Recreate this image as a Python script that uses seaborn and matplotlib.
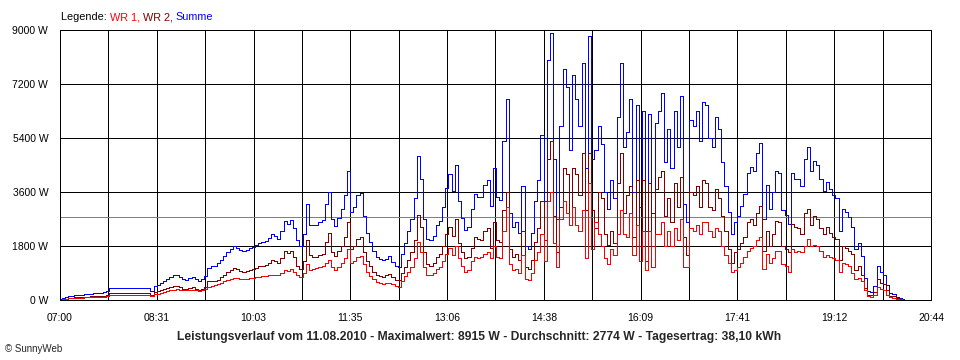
# SunnyWeb power curve (Leistungsverlauf) for 11.08.2010
import numpy as np
import pandas as pd
import matplotlib
matplotlib.use("Agg")
import matplotlib.pyplot as plt
import seaborn as sns

# one value every 3 minutes, starting at 07:00 (watts)
step_min = 3

wr1 = [10, 25, 40, 55, 60, 70, 75, 80, 85, 90,
       95, 100, 105, 110, 115, 130, 160, 165, 165, 160,
       160, 165, 160, 165, 160, 165, 160, 160, 165, 130,
       190, 210, 240, 270, 300, 330, 350, 360, 340, 330,
       320, 340, 350, 330, 300, 330, 380, 440, 470, 500,
       540, 580, 620, 660, 700, 730, 720, 700, 690, 710,
       720, 730, 760, 780, 800, 800, 820, 850, 840, 820,
       900, 1000, 960, 1020, 950, 850, 780, 900, 1200, 1000,
       1050, 1070, 1100, 1120, 1250, 1350, 1100, 1000, 1100, 1250,
       1400, 1700, 1250, 1300, 1450, 1480, 1200, 950, 800, 700,
       600, 560, 540, 560, 580, 520, 470, 450, 650, 800,
       950, 1100, 1400, 1950, 1600, 1100, 850, 850, 900, 1050,
       1100, 1300, 1550, 1750, 1500, 1800, 1400, 1150, 950, 1000,
       1300, 1450, 1400, 1450, 1550, 1600, 1400, 1800, 1450, 1400,
       2300, 3100, 1200, 1000, 1050, 900, 1500, 700, 680, 900,
       1350, 1600, 2200, 1300, 3300, 3600, 1900, 1100, 2700, 3300,
       2900, 2500, 3100, 2500, 2300, 3000, 1400, 3900, 1700, 2600,
       2200, 1800, 1400, 1200, 1700, 1500, 2200, 3000, 2200, 2100,
       2900, 1500, 2500, 1300, 2300, 1000, 2300, 1100, 2200, 2200,
       2600, 1800, 2300, 1800, 2400, 2000, 2700, 1100, 1100, 2400,
       2300, 2500, 2200, 2600, 2600, 2300, 2100, 2400, 2300, 1800,
       1500, 1250, 950, 1000, 1100, 1250, 1450, 1650, 1750, 1800,
       2000, 2100, 1050, 1550, 1250, 1400, 1650, 1650, 1200, 1150,
       950, 1700, 1600, 1650, 1600, 1800, 2050, 1800, 1850, 1800,
       1650, 1450, 1500, 1450, 1400, 1350, 950, 1250, 1200, 1120,
       900, 700, 750, 620, 350, 120, 100, 180, 420, 380,
       320, 180, 90, 80, 40, 20, 10]

wr2 = [10, 30, 50, 70, 80, 90, 95, 100, 110, 115,
       120, 130, 135, 140, 150, 180, 230, 240, 235, 235,
       240, 240, 235, 240, 245, 240, 235, 240, 235, 170,
       270, 300, 330, 370, 400, 440, 470, 480, 420, 380,
       360, 400, 430, 380, 320, 370, 420, 620, 650, 620,
       680, 760, 850, 930, 1000, 1060, 1020, 960, 930, 960,
       1000, 1050, 1080, 1120, 1150, 1180, 1250, 1350, 1290, 1230,
       1400, 1650, 1560, 1640, 1450, 1150, 1020, 1300, 2000, 1500,
       1450, 1420, 1500, 1550, 1950, 2250, 1600, 1480, 1650, 1800,
       2100, 2600, 1700, 1800, 2050, 2100, 1600, 1300, 1150, 950,
       830, 800, 780, 820, 880, 760, 680, 660, 900, 1100,
       1350, 1600, 2000, 2850, 2450, 1600, 1200, 1150, 1250, 1450,
       1550, 1800, 2200, 2450, 2150, 2700, 1900, 1600, 1400, 1450,
       1750, 2100, 2050, 2000, 2300, 2400, 1750, 2600, 2000, 1950,
       3000, 3600, 1700, 1450, 1550, 1350, 2300, 1100, 1020, 1350,
       1950, 2400, 3300, 2000, 4700, 5300, 2800, 1600, 3100, 4400,
       4200, 2500, 4400, 4200, 3500, 4900, 3000, 4900, 3000, 2400,
       3600, 3400, 2200, 1850, 2300, 1900, 3900, 4900, 2900, 3500,
       3800, 2100, 4000, 1800, 4000, 1300, 3900, 1800, 3700, 4100,
       4300, 2800, 3400, 2600, 3900, 3100, 4100, 2100, 1500, 3600,
       3500, 3800, 3100, 4000, 3900, 3100, 3000, 3700, 3400, 2800,
       2300, 1700, 1250, 1600, 1700, 1900, 2100, 2600, 2700, 2500,
       2900, 3150, 1650, 2300, 1800, 2200, 2650, 2600, 1800, 1700,
       1600, 2550, 2450, 2400, 2200, 2900, 3050, 2500, 2800, 2700,
       2400, 2200, 2450, 2250, 2100, 2050, 1350, 1800, 1750, 1650,
       1550, 1000, 1150, 850, 400, 180, 170, 280, 700, 560,
       520, 330, 150, 130, 70, 40, 20]

tick_labels = ["07:00", "08:31", "10:03", "11:35", "13:06",
               "14:38", "16:09", "17:41", "19:12", "20:44"]
y_ticks = [0, 1800, 3600, 5400, 7200, 9000]
avg_w = 2774
day_minutes = 824  # 07:00 .. 20:44

series_colors = {"Summe": "#0000FF", "WR 2": "#800000", "WR 1": "#FF0000"}
legend_parts = ["Legende: ", "WR 1, ", "WR 2, ", "Summe"]
legend_colors = ["black", "#FF0000", "#800000", "#0000FF"]
title = ("Leistungsverlauf vom 11.08.2010 - Maximalwert: 8915 W - "
         "Durchschnitt: 2774 W - Tagesertrag: 38,10 kWh")

n = len(wr1)
minutes = np.arange(n) * step_min
summe = np.array(wr1) + np.array(wr2)  # Summe = WR 1 + WR 2

df = pd.DataFrame({
    "min": np.tile(minutes, 3),
    "W": np.concatenate([summe, wr2, wr1]),
    "serie": ["Summe"] * n + ["WR 2"] * n + ["WR 1"] * n,
})

sns.set_style("white")
plt.rcParams["font.family"] = ["Liberation Sans", "DejaVu Sans"]
plt.rcParams["lines.antialiased"] = False

px = 0.72  # one pixel at 100 dpi

fig = plt.figure(figsize=(9.6, 3.6), dpi=100)
ax = fig.add_axes([60 / 960, 60 / 360, 871 / 960, 270 / 360])

ax.axhline(avg_w, color="#808080", lw=px, zorder=1.5)

sns.lineplot(data=df, x="min", y="W", hue="serie",
             hue_order=["Summe", "WR 2", "WR 1"], palette=series_colors,
             estimator=None, legend=False, lw=px, drawstyle="steps-mid",
             antialiased=False, ax=ax)

xt = np.linspace(0, day_minutes, 19)
ax.set_xticks(xt)
ax.set_xticklabels([tick_labels[i // 2] if i % 2 == 0 else "" for i in range(19)])
ax.set_yticks(y_ticks)
ax.set_yticklabels([f"{v} W" for v in y_ticks])
ax.set_xlim(0, day_minutes)
ax.set_ylim(0, 9000)
ax.set_xlabel("")
ax.set_ylabel("")

ax.grid(True, color="black", lw=px)
for s in ax.spines.values():
    s.set_color("black")
    s.set_linewidth(px)
    s.set_antialiased(False)
ax.tick_params(axis="both", direction="out", length=5, width=px,
               color="black", labelsize=7.5, labelcolor="black")
ax.tick_params(axis="x", pad=4.5)
ax.tick_params(axis="y", pad=3.5)

# coloured legend line above the chart
r = fig.canvas.get_renderer()
x0 = 61
for txt, col in zip(legend_parts, legend_colors):
    t = fig.text(x0 / 960, 1 - 17 / 360, txt, color=col, fontsize=7.8, va="center")
    bb = t.get_window_extent(renderer=r)
    x0 = bb.x1

fig.text(479 / 960, 1 - 337 / 360, title, ha="center", va="center",
         fontsize=8.7, fontweight="bold")
fig.text(5 / 960, 1 - 349 / 360, "© SunnyWeb", fontsize=7, va="center")

fig.savefig("out.png", dpi=100)
